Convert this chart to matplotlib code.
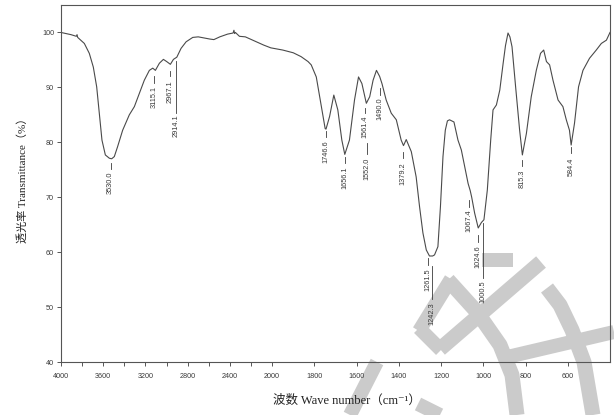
import matplotlib
matplotlib.use("Agg")
import matplotlib.pyplot as plt
import numpy as np
from matplotlib.lines import Line2D

# IR spectrum: wavenumber (cm-1) and transmittance (%)
wavenumber = [
    4000, 3950, 3905, 3855, 3848, 3842, 3779, 3732, 3694, 3662,
    3637, 3612, 3580, 3542, 3520, 3495, 3464, 3416, 3353, 3305,
    3258, 3211, 3163, 3131, 3106, 3068, 3030, 2999, 2964, 2935,
    2903, 2863, 2815, 2752, 2700, 2644, 2590, 2552, 2496, 2422,
    2370, 2362, 2356, 2348, 2310, 2254, 2162, 2080, 2013, 1950,
    1900, 1863, 1830, 1815, 1791, 1767, 1749, 1745, 1728, 1708,
    1689, 1670, 1656, 1634, 1610, 1591, 1575, 1554, 1538, 1522,
    1506, 1491, 1480, 1460, 1436, 1412, 1389, 1378, 1365, 1341,
    1318, 1302, 1286, 1270, 1255, 1240, 1231, 1215, 1203, 1191,
    1180, 1170, 1160, 1139, 1120, 1104, 1088, 1072, 1062, 1055,
    1041, 1024, 1009, 997, 981, 965, 954, 938, 922, 906,
    895, 883, 874, 864, 847, 828, 815, 796, 773, 749,
    729, 714, 701, 686, 670, 646, 623, 607, 592, 584,
    568, 549, 528, 497, 465, 441, 417, 400,
]
transmittance = [
    100.0, 99.8, 99.6, 99.3, 99.6, 99.1, 98.0, 96.2, 93.7, 90.1,
    85.3, 80.4, 77.7, 77.1, 77.0, 77.4, 79.2, 82.2, 85.0, 86.5,
    88.9, 91.3, 93.1, 93.5, 93.1, 94.4, 95.1, 94.7, 94.2, 95.1,
    95.5, 97.1, 98.3, 99.1, 99.2, 99.0, 98.8, 98.7, 99.2, 99.7,
    99.9, 100.4, 99.8, 100.0, 99.3, 99.2, 98.4, 97.7, 97.2, 96.8,
    96.3, 95.6, 94.7, 94.1, 91.9, 86.5, 82.5, 82.4, 84.7, 88.6,
    85.9, 80.4, 77.8, 80.4, 87.7, 91.9, 90.7, 87.1, 88.3, 91.3,
    93.1, 92.0, 90.7, 87.7, 85.3, 84.1, 80.4, 79.4, 80.5, 78.3,
    73.7, 68.3, 63.5, 60.4, 59.3, 59.3, 59.5, 61.0, 68.3, 77.4,
    82.2, 83.9, 84.1, 83.7, 80.4, 78.6, 75.6, 72.5, 71.2, 70.0,
    67.1, 64.4, 65.4, 65.9, 71.3, 80.4, 85.9, 86.8, 89.5, 94.4,
    97.6, 99.9, 99.2, 97.4, 90.1, 82.2, 77.7, 81.6, 88.3, 93.1,
    96.2, 96.8, 94.7, 94.1, 91.3, 87.7, 86.5, 84.1, 82.2, 79.5,
    83.5, 90.1, 93.1, 95.3, 96.8, 98.0, 98.6, 100.0,
]

# labelled bands
peak_labels = ["3530.0", "3115.1", "2967.1", "2914.1", "1746.6", "1656.1",
               "1561.4", "1552.0", "1490.0", "1379.2", "1261.5", "1242.3",
               "1067.4", "1024.6", "1000.5", "815.3", "584.4"]
peak_wn = [3530.0, 3115.1, 2967.1, 2914.1, 1746.6, 1656.1,
           1561.4, 1552.0, 1490.0, 1379.2, 1261.5, 1242.3,
           1067.4, 1024.6, 1000.5, 815.3, 584.4]

x_ticks = [4000, 3600, 3200, 2800, 2400, 2000, 1800, 1600, 1400, 1200, 1000, 800, 600]
x_minor = [3800, 3400, 3000, 2600, 2200]
y_ticks = [40, 50, 60, 70, 80, 90, 100]

# where each label sits: (dash top, dash bottom, text top) in % units
label_place = [
    (76.2, 75.2, 74.7), (92.0, 90.8, 90.2), (93.0, 92.0, 91.3), (94.8, 85.4, 85.0),
    (82.0, 80.9, 80.3), (77.3, 76.3, 75.6), (86.2, 85.3, 84.9), (79.8, 77.8, 77.3),
    (89.8, 88.6, 88.2), (78.3, 77.1, 76.4), (58.9, 57.6, 57.0), (57.4, 51.4, 50.9),
    (69.5, 68.3, 67.7), (63.1, 61.9, 61.2), (65.3, 55.3, 54.8), (76.8, 75.6, 75.0),
    (79.2, 78.0, 77.3),
]

ink = "#3a3a3a"
plt.rcParams["font.family"] = ["Liberation Sans", "DejaVu Sans"]

W, H = 614, 415
fig = plt.figure(figsize=(W / 100, H / 100), dpi=100)
fig.patch.set_facecolor("white")
ax = fig.add_axes([61 / W, 1 - 362 / H, (610 - 61) / W, (362 - 5) / H])
ax.patch.set_facecolor("none")


# wavenumber axis is squeezed 2x above 2000 cm-1
def fwd(w):
    w = np.asarray(w, dtype=float)
    return np.where(w > 2000, 2000 + (w - 2000) / 2, w)


def inv(u):
    u = np.asarray(u, dtype=float)
    return np.where(u > 2000, 2000 + (u - 2000) * 2, u)


ax.set_xscale("function", functions=(fwd, inv))
ax.set_xlim(4000, 400)
ax.set_ylim(40, 105)

ax.plot(wavenumber, transmittance, color="#4a4a4a", lw=0.8)

for lab, w, (y1, y0, yt) in zip(peak_labels, peak_wn, label_place):
    ax.plot([w, w], [y0, y1], color=ink, lw=0.6)
    ax.text(w, yt, lab, rotation=90, ha="center", va="top",
            fontsize=5.3, color=ink)

ax.set_xticks(x_ticks)
ax.set_xticklabels([str(v) for v in x_ticks])
ax.set_xticks(x_minor, minor=True)
ax.set_yticks(y_ticks)
ax.tick_params(axis="both", which="both", direction="out", length=3,
               width=0.6, color=ink, labelsize=5.2, labelcolor=ink, pad=2)
ax.tick_params(axis="x", pad=5)
for s in ax.spines.values():
    s.set_color("#555555")
    s.set_linewidth(0.8)

lab_font = ["Liberation Serif", "Noto Sans CJK SC", "DejaVu Serif"]
fig.text(347 / W, 1 - 401 / H, "波数 Wave number（cm⁻¹）", ha="center", va="center",
         fontsize=9, color="#222222", family=lab_font)
fig.text(22 / W, 1 - 178 / H, "透光率 Transmittance（%）", ha="center", va="center",
         rotation=90, fontsize=8, color="#222222", family=lab_font)

# grey watermark strokes (figure pixels, y down)
strokes = [
    ([481.7, 513.3], [260, 260], 14),
    ([541, 440], [262, 349], 15),
    ([451, 419], [279, 331], 14),
    ([419, 441], [328, 350], 14),
    ([448, 477, 500, 512, 517], [280, 312, 345, 375, 415], 15),
    ([547, 560, 572, 584, 593], [288, 305, 330, 362, 415], 15),
    ([614, 503], [332, 358], 14),
    ([377, 350], [362, 415], 14),
    ([418, 440], [404, 415], 14),
]
for xs, ys, lw in strokes:
    fig.add_artist(Line2D(np.array(xs) / W, 1 - np.array(ys) / H,
                          transform=fig.transFigure, color="#cbcbcb",
                          lw=lw * 0.72, solid_capstyle="butt", zorder=-1))

fig.savefig("out.png", dpi=100)
